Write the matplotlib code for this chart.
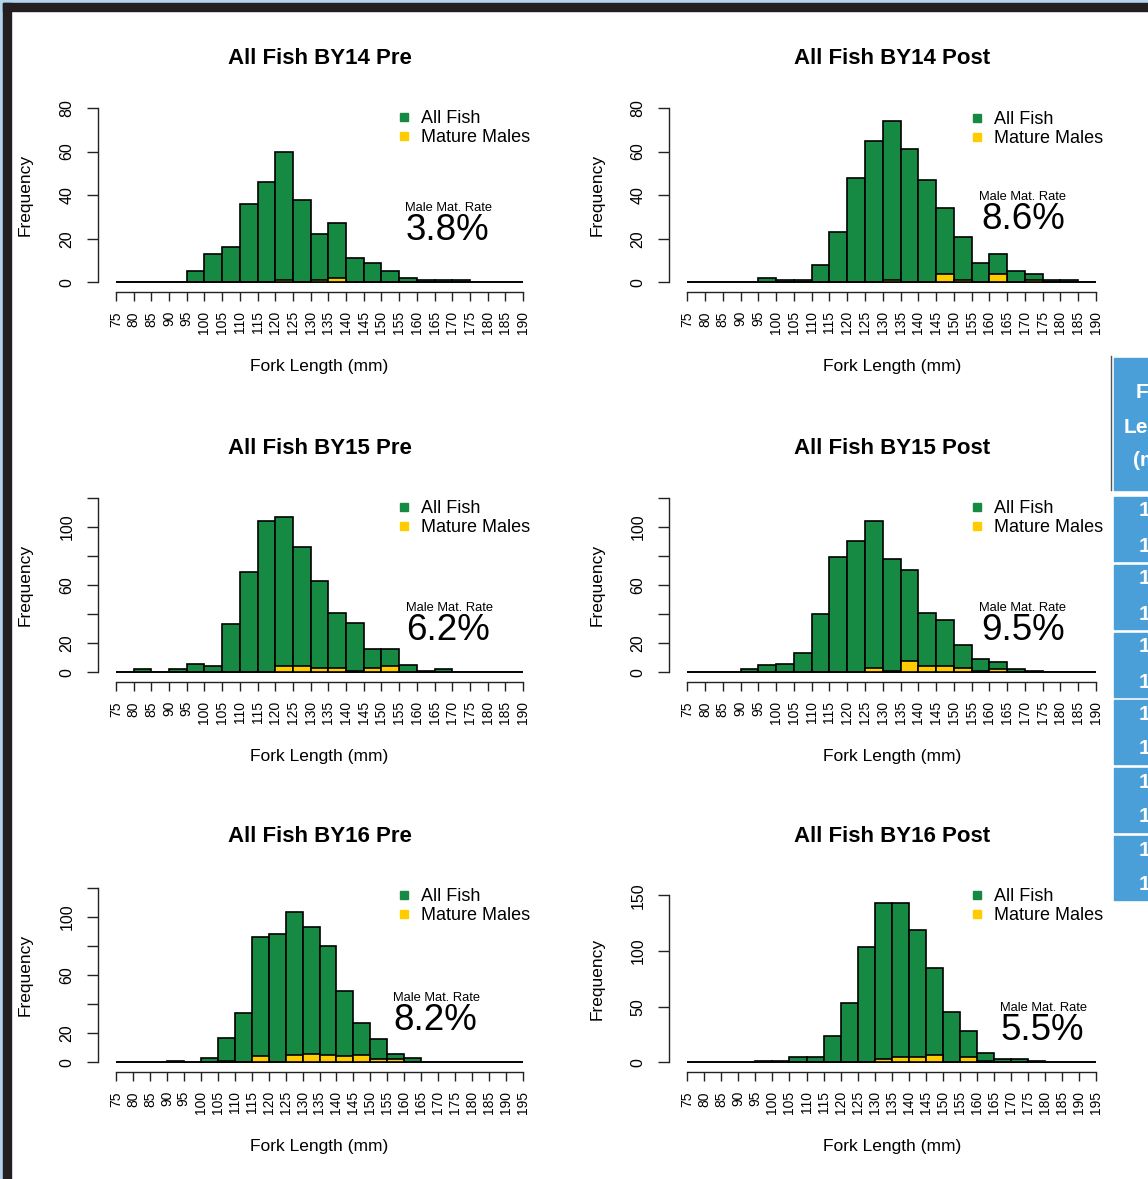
import matplotlib
matplotlib.use('Agg')
import matplotlib.pyplot as plt
from matplotlib.lines import Line2D
from matplotlib.patches import Rectangle

W, H = 1148, 1179
plt.rcParams['font.family'] = ['Liberation Sans', 'DejaVu Sans']

# ---------------- data ----------------
breaks_by14_15 = list(range(75, 191, 5))   # 23 bins of 5 mm
breaks_by16 = list(range(75, 196, 5))      # 24 bins of 5 mm

titles = ["All Fish BY14 Pre", "All Fish BY14 Post",
          "All Fish BY15 Pre", "All Fish BY15 Post",
          "All Fish BY16 Pre", "All Fish BY16 Post"]

by14_pre_all = [0, 0, 0, 0, 5, 13, 16, 36, 46, 60, 38, 22, 27, 11, 9, 5, 2, 1, 1, 1, 0, 0, 0]
by14_pre_mm = [0, 0, 0, 0, 0, 0, 0, 0, 0, 1, 0, 1, 2, 0, 0, 0, 0, 0, 0, 0, 0, 0, 0]

by14_post_all = [0, 0, 0, 0, 2, 1, 1, 8, 23, 48, 65, 74, 61, 47, 34, 21, 9, 13, 5, 4, 1, 1, 0]
by14_post_mm = [0, 0, 0, 0, 0, 0, 0, 0, 0, 0, 0, 1, 0, 0, 4, 1, 0, 4, 0, 1, 0, 0, 0]

by15_pre_all = [0, 2, 0, 2, 6, 4, 33, 69, 104, 107, 86, 63, 41, 34, 16, 16, 5, 1, 2, 0, 0, 0, 0]
by15_pre_mm = [0, 0, 0, 0, 0, 0, 0, 0, 0, 4, 4, 3, 3, 1, 3, 4, 0, 0, 0, 0, 0, 0, 0]

by15_post_all = [0, 0, 0, 2, 5, 6, 13, 40, 79, 90, 104, 78, 70, 41, 36, 19, 9, 7, 2, 1, 0, 0, 0]
by15_post_mm = [0, 0, 0, 0, 0, 0, 0, 0, 0, 0, 3, 1, 8, 4, 4, 3, 1, 2, 0, 0, 0, 0, 0]

by16_pre_all = [0, 0, 0, 1, 0, 3, 17, 34, 86, 88, 103, 93, 80, 49, 27, 16, 6, 3, 0, 0, 0, 0, 0, 0]
by16_pre_mm = [0, 0, 0, 0, 0, 0, 1, 0, 4, 0, 5, 6, 5, 4, 5, 2, 2, 0, 0, 0, 0, 0, 0, 0]

by16_post_all = [0, 0, 0, 0, 1, 1, 5, 5, 24, 53, 104, 143, 143, 119, 85, 45, 28, 8, 3, 3, 1, 0, 0, 0]
by16_post_mm = [0, 0, 0, 0, 0, 0, 0, 0, 0, 0, 0, 3, 5, 5, 7, 0, 5, 1, 0, 0, 0, 0, 0, 0]

rates = ["3.8%", "8.6%", "6.2%", "9.5%", "8.2%", "5.5%"]

yticks_80 = [0, 20, 40, 60, 80]
ylabels_80 = ["0", "20", "40", "60", "80"]
yticks_120 = [0, 20, 40, 60, 80, 100, 120]
ylabels_120 = ["0", "20", "", "60", "", "100", ""]
yticks_150 = [0, 50, 100, 150]
ylabels_150 = ["0", "50", "100", "150"]

legend_labels = ["All Fish", "Mature Males"]

# ---------------- style ----------------
GREEN = '#168A42'
YELLOW = '#FFCC00'
BLUE = '#4A9FD8'

fig = plt.figure(figsize=(W / 100, H / 100), dpi=100)


def fx(x):
    return x / W


def fy(y):
    return 1 - y / H


# layout (pixel positions of panel elements)
layout = [
    dict(x75=116, xend=523, base=282.3, ytop=108, ttl_y=58, ylab_x=25, leg=(404, 119),
         r1=(405, 208), r2=(406, 231)),
    dict(x75=687.3, xend=1096, base=282.3, ytop=108, ttl_y=58, ylab_x=597, leg=(977, 120),
         r1=(979, 197), r2=(981, 219)),
    dict(x75=116, xend=523, base=672.3, ytop=497.7, ttl_y=448, ylab_x=25, leg=(404, 509),
         r1=(406, 608), r2=(406, 630)),
    dict(x75=687.3, xend=1096, base=672.3, ytop=497.7, ttl_y=448, ylab_x=597, leg=(977, 509),
         r1=(979, 608), r2=(981, 630)),
    dict(x75=116, xend=523, base=1062.3, ytop=887.7, ttl_y=836, ylab_x=25, leg=(404, 897),
         r1=(393, 998), r2=(393, 1020)),
    dict(x75=687.3, xend=1096, base=1062.3, ytop=895.3, ttl_y=836, ylab_x=597, leg=(977, 897),
         r1=(1000, 1008), r2=(1001, 1030)),
]

series = [
    (breaks_by14_15, by14_pre_all, by14_pre_mm, yticks_80, ylabels_80),
    (breaks_by14_15, by14_post_all, by14_post_mm, yticks_80, ylabels_80),
    (breaks_by14_15, by15_pre_all, by15_pre_mm, yticks_120, ylabels_120),
    (breaks_by14_15, by15_post_all, by15_post_mm, yticks_120, ylabels_120),
    (breaks_by16, by16_pre_all, by16_pre_mm, yticks_120, ylabels_120),
    (breaks_by16, by16_post_all, by16_post_mm, yticks_150, ylabels_150),
]

for i, (lay, ser) in enumerate(zip(layout, series)):
    brk, allf, mm, yt, yl = ser
    last = brk[-1]
    ymax = yt[-1]
    left = lay['x75'] - 18
    right = lay['xend'] + 18
    top = lay['ytop'] - 10
    bottom = lay['base'] + 10
    ax = fig.add_axes([fx(left), fy(bottom), (right - left) / W, (bottom - top) / H])
    ax.patch.set_visible(False)
    sx = (lay['xend'] - lay['x75']) / (last - brk[0])
    sy = (lay['base'] - lay['ytop']) / ymax
    ax.set_xlim(brk[0] - 18 / sx, last + 18 / sx)
    ax.set_ylim(-10 / sy, ymax + 10 / sy)

    ax.bar(brk[:-1], allf, width=5, align='edge', color=GREEN, edgecolor='black',
           linewidth=1.2, zorder=2)
    ax.bar(brk[:-1], mm, width=5, align='edge', color=YELLOW, edgecolor='black',
           linewidth=1.2, zorder=3)

    for s in ['top', 'right']:
        ax.spines[s].set_visible(False)
    ax.spines['left'].set_bounds(0, ymax)
    ax.spines['bottom'].set_bounds(brk[0], last)
    for s in ['left', 'bottom']:
        ax.spines[s].set_linewidth(1.0)
        ax.spines[s].set_color('#222222')

    ax.set_xticks(brk)
    ax.set_xticklabels([str(b) for b in brk], rotation=90, fontsize=10)
    ax.tick_params(axis='x', length=6.5, width=1, pad=7, color='#222222')
    ax.set_yticks(yt)
    ax.set_yticklabels(yl, rotation=90, va='center', fontsize=11.5)
    ax.tick_params(axis='y', length=8, width=1, pad=9, color='#222222')

    cx = (left + right) / 2
    fig.text(fx(cx), fy(lay['ttl_y']), titles[i], ha='center', va='center',
             fontsize=16, fontweight='bold')
    fig.text(fx(cx), fy(bottom + 74), "Fork Length (mm)", ha='center', va='center',
             fontsize=12.5)
    fig.text(fx(lay['ylab_x']), fy((top + bottom) / 2), "Frequency", ha='center',
             va='center', rotation=90, fontsize=12.5)

    handles = [Line2D([], [], marker='s', linestyle='none', color=GREEN, markersize=6),
               Line2D([], [], marker='s', linestyle='none', color=YELLOW, markersize=6)]
    lx, ly = lay['leg']
    ax.legend(handles, legend_labels, loc='upper left',
              bbox_to_anchor=(fx(lx - 7), fy(ly - 9)), bbox_transform=fig.transFigure,
              frameon=False, borderpad=0, borderaxespad=0, handlelength=0.8,
              handletextpad=0.55, labelspacing=0.12, fontsize=13)

    fig.text(fx(lay['r1'][0]), fy(lay['r1'][1]), "Male Mat. Rate", ha='left',
             va='center', fontsize=9.3)
    fig.text(fx(lay['r2'][0]), fy(lay['r2'][1]), rates[i], ha='left', va='center',
             fontsize=26.5)

# ---------------- page frame ----------------
fig.add_artist(Rectangle((0, fy(3)), 1, 3 / H, transform=fig.transFigure,
                         color='#B4D4EE', zorder=0))
fig.add_artist(Rectangle((0, 0), 3 / W, 1, transform=fig.transFigure,
                         color='#B4D4EE', zorder=0))
fig.add_artist(Rectangle((3 / W, fy(11)), 1, 8 / H, transform=fig.transFigure,
                         color='#231F20', zorder=1))
fig.add_artist(Rectangle((3 / W, 0), 8 / W, fy(3), transform=fig.transFigure,
                         color='#231F20', zorder=1))

# partial table on the right edge
fig.add_artist(Line2D([fx(1111), fx(1111)], [fy(356), fy(490)], transform=fig.transFigure,
                      color='#555555', lw=1))
hdr = Rectangle((fx(1114), fy(490)), (1148 - 1114) / W, (490 - 358) / H,
                transform=fig.transFigure, color=BLUE)
fig.add_artist(hdr)
for txt, yy in zip(["Fork", "Length", "(mm)"], [393, 427, 461]):
    t = fig.text(fx(1158), fy(yy), txt, ha='center', va='center', color='white',
                 fontsize=15, fontweight='bold')
    t.set_clip_path(hdr)
cell_tops = [497, 565, 633, 700, 768, 836]
for ct in cell_tops:
    cell = Rectangle((fx(1114), fy(ct + 64)), (1148 - 1114) / W, 64 / H,
                     transform=fig.transFigure, color=BLUE)
    fig.add_artist(cell)
    for yy in [ct + 14, ct + 49]:
        t = fig.text(fx(1139), fy(yy), "1", ha='left', va='center', color='white',
                     fontsize=15, fontweight='bold')
        t.set_clip_path(cell)

fig.savefig('out.png', dpi=100)
